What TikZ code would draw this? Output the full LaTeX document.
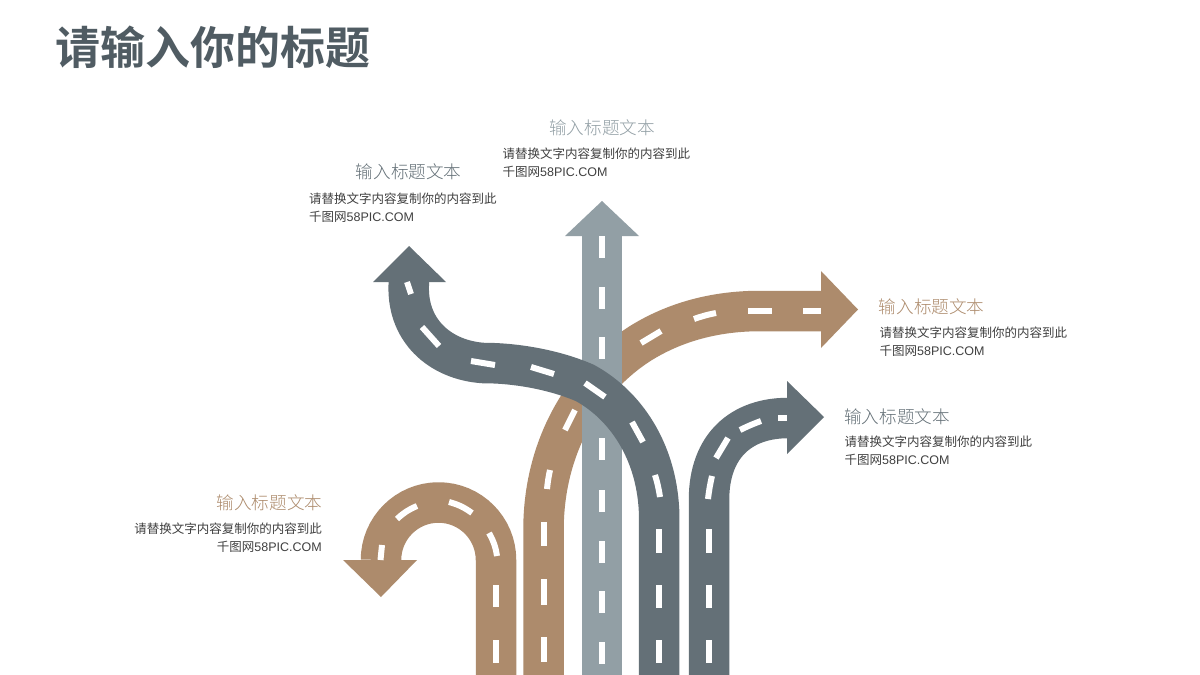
\documentclass[tikz,border=0pt]{standalone}
\usepackage{fontspec}
\setmainfont{Liberation Sans}
\newfontfamily\cjkr{Noto Sans CJK SC}
\newfontfamily\cjkl[UprightFont=* Light]{Noto Sans CJK SC}
\newfontfamily\cjkb[UprightFont=* Bold]{Noto Sans CJK SC}
\definecolor{tan}{HTML}{AD8B6C}
\definecolor{mist}{HTML}{929FA5}
\definecolor{slate}{HTML}{647077}
\definecolor{ink}{HTML}{505C63}
\definecolor{body}{HTML}{404040}
\newcommand{\bodylines}{{\cjkr 请替换文字内容复制你的内容到此}\\{\cjkr 千图网}58PIC.COM}
\tikzset{
  road/.style={line width=40.5pt},
  lane/.style={white,line width=6pt},
  heading/.style={inner sep=0pt,font=\fontsize{17.6}{20}\cjkl},
  bodytext/.style={inner sep=0pt,text=body,font=\fontsize{12.5}{18.2}\selectfont}
}
\begin{document}
\begin{tikzpicture}[x=1pt,y=-1pt]
\useasboundingbox (0,0) rectangle (1200,675);
\fill[white] (0,0) rectangle (1200,675);
% tan road to the right
\draw[road,tan] (543.5,675) -- (543.5,530) .. controls (543.5,440) and (590,375) .. (641,343) .. controls (675,322) and (715,311) .. (760,311) -- (822,311);
\fill[tan] (821,271) -- (858,309.5) -- (821,348) -- cycle;
\foreach \a/\b in {522/546,579/605,637/662}{\draw[lane] (543.5,\a) -- (543.5,\b);}
\draw[lane] (550,470) to[bend right=3] (547,489);
\draw[lane] (575,410) -- (565,430);
\draw[lane] (641,343) -- (661,331);
\draw[lane] (694,319) to[bend left=4] (716,313);
\draw[lane] (748,311) -- (772,311);
\draw[lane] (803,311) -- (821,311);
% tan U road
\draw[road,tan] (496,675) -- (496,560) arc[start angle=0,end angle=-180,radius=57.5];
\fill[tan] (343,560) -- (417,560) -- (381,597) -- cycle;
\foreach \a/\b in {585/607,640/663}{\draw[lane] (496,\a) -- (496,\b);}
\draw[lane] (497,556) to[bend right=10] (489,533);
\draw[lane] (472,513) to[bend right=10] (449,502);
\draw[lane] (417,506) to[bend right=10] (397,519);
\draw[lane] (382,545) -- (380.5,560);
% grey straight road
\draw[road,mist] (602,675) -- (602,235);
\fill[mist] (565,236) -- (602,201) -- (639,236) -- cycle;
\foreach \a in {236,287,337,387,438,490,541,591,642}{\draw[lane] (602,\a) -- (602,\a+22);}
% dark road to the upper left
\draw[road,slate] (659,675) -- (659,510) .. controls (656,450) and (625,405) .. (585,383) .. controls (560,372) and (522,363) .. (483,363) .. controls (440,360) and (405,330) .. (409,281);
\fill[slate] (373,282) -- (409,246) -- (446,282) -- cycle;
\foreach \a/\b in {529/553,585/608,640/663}{\draw[lane] (659,\a) -- (659,\b);}
\draw[lane] (660,497) to[bend right=4] (655,475);
\draw[lane] (643,442) -- (632,422);
\draw[lane] (605,397) -- (585,383);
\draw[lane] (554,374) -- (531,367);
\draw[lane] (495,365) -- (471,361);
\draw[lane] (439,346) -- (422,327);
\draw[lane] (411,294) -- (407,282);
% dark road to the right
\draw[road,slate] (709,675) -- (709,500) .. controls (709,445) and (742,418) .. (788,418);
\fill[slate] (787,381) -- (824,417) -- (787,454) -- cycle;
\foreach \a/\b in {529/553,585/608,640/663}{\draw[lane] (709,\a) -- (709,\b);}
\draw[lane] (708,499) to[bend left=3] (712,476);
\draw[lane] (716,458) -- (728,438);
\draw[lane] (740,430) to[bend left=3] (761,421);
\draw[lane] (778,418) -- (787,418);
% texts
\node[anchor=west,inner sep=0pt,text=ink,font=\fontsize{45}{50}\cjkb] (title) at (55,47.5) {请输入你的标题};
\node[heading,anchor=west,text=mist] (h1) at (549,128) {输入标题文本};
\node[bodytext,anchor=west,align=left] (b1) at (502.5,163) {\bodylines};
\node[heading,anchor=west,text=slate] (h2) at (355.7,172) {输入标题文本};
\node[bodytext,anchor=west,align=left] (b2) at (309,208) {\bodylines};
\node[heading,anchor=west,text=tan] (h3) at (878.7,307) {输入标题文本};
\node[bodytext,anchor=west,align=left] (b3) at (879.5,341.5) {\bodylines};
\node[heading,anchor=west,text=slate] (h4) at (844,417) {输入标题文本};
\node[bodytext,anchor=west,align=left] (b4) at (844.5,451) {\bodylines};
\node[heading,anchor=east,text=tan] (h5) at (322.5,503) {输入标题文本};
\node[bodytext,anchor=east,align=right] (b5) at (322,538) {\bodylines};
\end{tikzpicture}
\end{document}
